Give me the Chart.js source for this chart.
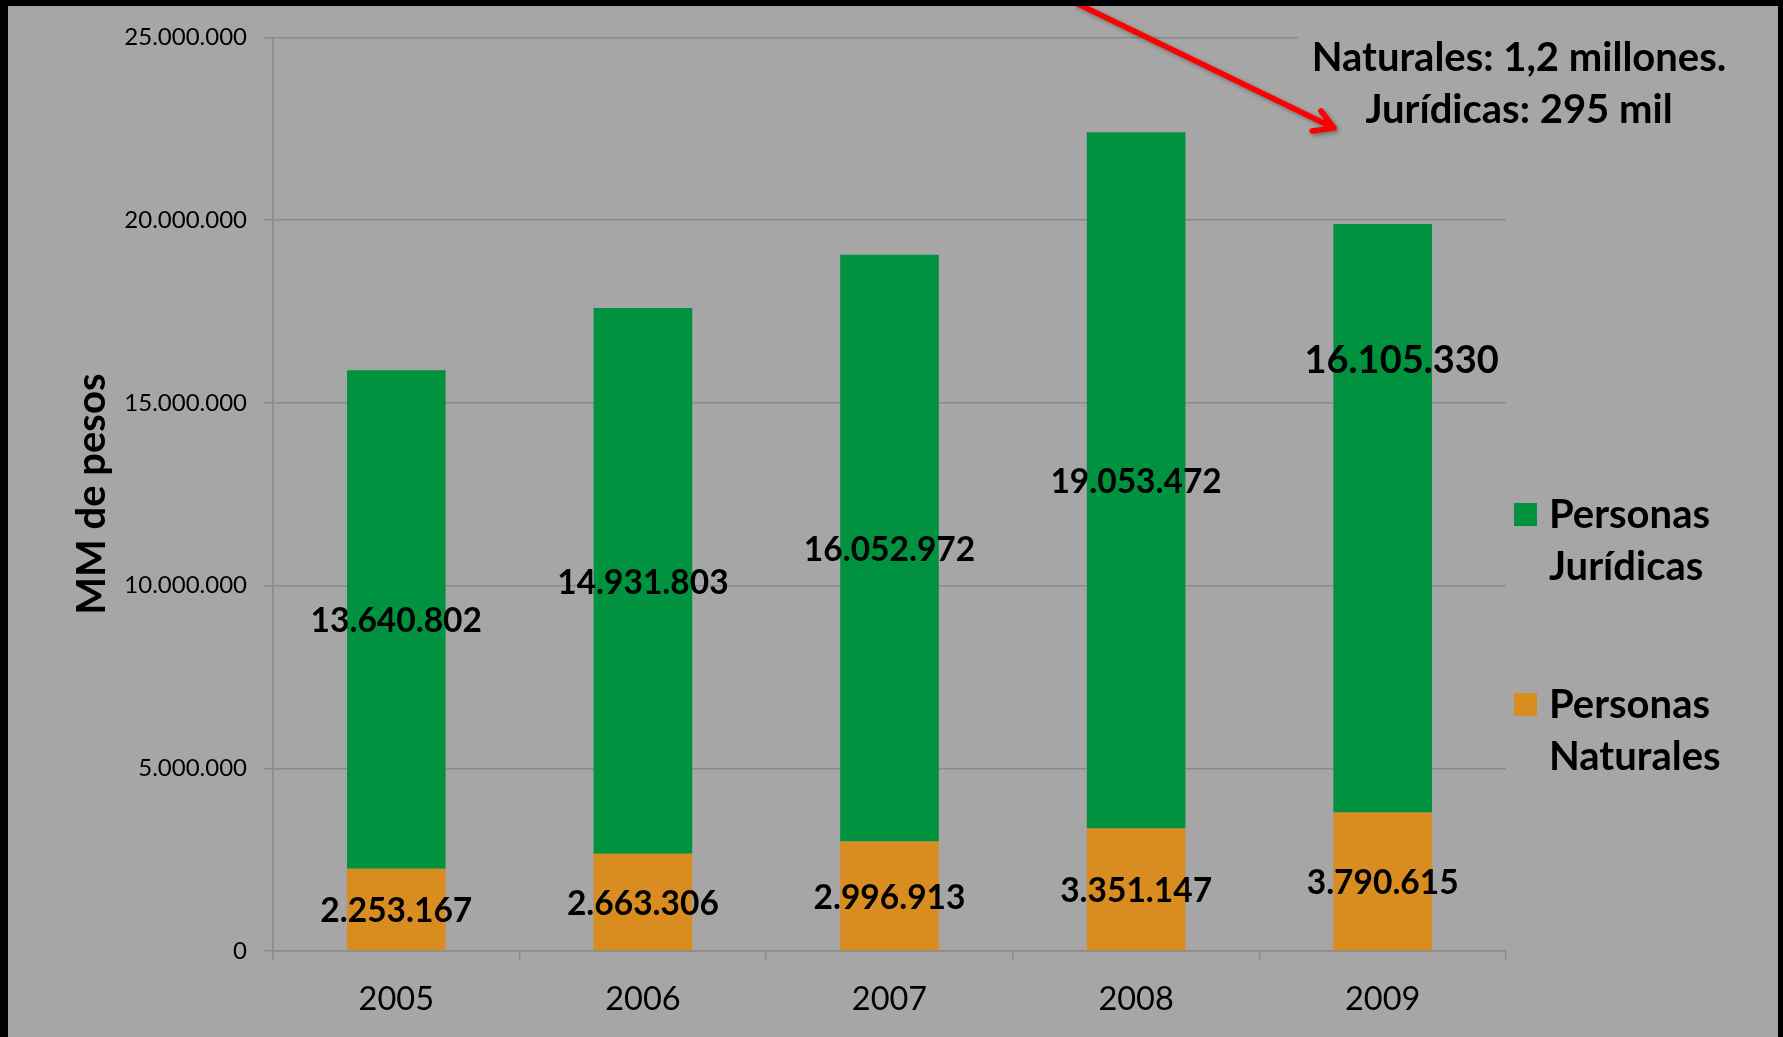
<!DOCTYPE html>
<html>
<head>
<meta charset="utf-8">
<script src="https://cdn.jsdelivr.net/npm/chart.js@4.4.1/dist/chart.umd.min.js"></script>
<style>
  html, body { margin: 0; padding: 0; background: #000; overflow: hidden; }
  #wrap { position: absolute; left: 8px; top: 6px; width: 1770px; height: 1031px; background: #a6a6a6; }
</style>
</head>
<body>
<div id="wrap"><canvas id="chart"></canvas></div>
<script>
const years = ["2005", "2006", "2007", "2008", "2009"];
const naturales = [2253167, 2663306, 2996913, 3351147, 3790615];
const juridicas = [13640802, 14931803, 16052972, 19053472, 16105330];
const yTicks = [0, 5000000, 10000000, 15000000, 20000000, 25000000];
const noteLines = ["Naturales: 1,2 millones.", "Jurídicas: 295 mil"];

const fmt = (v) => String(v).replace(/\B(?=(\d{3})+(?!\d))/g, ".");
const FONT = "Lato, 'Open Sans', sans-serif";
const GRID = "#8a8a8a";

// labels centred in each segment, one moved up as in the original slide
const barLabels = {
  id: "barLabels",
  afterDatasetsDraw(chart) {
    const ctx = chart.ctx;
    ctx.save();
    ctx.fillStyle = "#000";
    ctx.textAlign = "center";
    ctx.textBaseline = "middle";
    chart.data.datasets.forEach((ds, di) => {
      chart.getDatasetMeta(di).data.forEach((bar, i) => {
        let x = bar.x, y = (bar.y + bar.base) / 2 + 2, size = 33.5;
        if (di === 1 && i === 4) { x += 19; y -= 159; size = 38; }
        ctx.font = "bold " + size + "px " + FONT;
        ctx.fillText(fmt(ds.data[i]), x, y);
      });
    });
    ctx.restore();
  }
};

const sideLegend = {
  id: "sideLegend",
  afterDraw(chart) {
    const ctx = chart.ctx;
    ctx.save();
    ctx.font = "bold 40px " + FONT;
    ctx.textBaseline = "middle";
    ctx.textAlign = "left";
    const items = chart.data.datasets.slice().reverse();
    items.forEach((ds, k) => {
      const y0 = 509 + k * 190;
      ctx.fillStyle = ds.backgroundColor;
      ctx.fillRect(1506, y0 - 12, 23, 23);
      ctx.fillStyle = "#000";
      ds.label.split(" ").forEach((w, j) => ctx.fillText(w, 1541, y0 + j * 52));
    });

    // note in the top right corner
    ctx.textAlign = "center";
    ctx.fillStyle = "#a6a6a6";
    ctx.fillRect(1290, 22, 460, 110);
    ctx.fillStyle = "#000";
    noteLines.forEach((t, j) => ctx.fillText(t, 1511, 52 + j * 52));

    // red arrow
    ctx.strokeStyle = "#ff0000";
    ctx.lineWidth = 5.5;
    ctx.lineCap = "round";
    ctx.lineJoin = "round";
    ctx.shadowColor = "rgba(0,0,0,0.35)";
    ctx.shadowBlur = 4;
    ctx.shadowOffsetX = 2;
    ctx.shadowOffsetY = 2;
    ctx.beginPath();
    ctx.moveTo(1068, -3);
    ctx.lineTo(1326, 122);
    ctx.moveTo(1313, 105);
    ctx.lineTo(1326, 122);
    ctx.lineTo(1304, 125);
    ctx.stroke();
    ctx.restore();
  }
};

new Chart(document.getElementById("chart"), {
  type: "bar",
  data: {
    labels: years,
    datasets: [
      { label: "Personas Naturales", data: naturales, backgroundColor: "#d98c20" },
      { label: "Personas Jurídicas", data: juridicas, backgroundColor: "#00923f" }
    ]
  },
  options: {
    responsive: true,
    maintainAspectRatio: false,
    animation: false,
    layout: { padding: { left: 0, top: 30, right: 272, bottom: 0 } },
    datasets: { bar: { categoryPercentage: 1, barPercentage: 0.4 } },
    plugins: { legend: { display: false }, tooltip: { enabled: false } },
    scales: {
      x: {
        stacked: true,
        afterFit: (s) => { s.height = 86; },
        grid: { drawOnChartArea: false, drawTicks: true, tickLength: 9, color: GRID, lineWidth: 1.5 },
        border: { color: GRID, width: 1.5 },
        ticks: { color: "#000", padding: 20, font: { family: FONT, size: 32.5 } }
      },
      y: {
        stacked: true,
        min: 0,
        max: 25000000,
        afterFit: (s) => { s.width = 265; },
        afterBuildTicks: (s) => { s.ticks = yTicks.map((v) => ({ value: v })); },
        grid: { color: GRID, lineWidth: 1.5, tickLength: 9 },
        border: { color: GRID, width: 1.5 },
        ticks: { color: "#000", padding: 17, font: { family: FONT, size: 24 }, callback: (v) => fmt(v) },
        title: {
          display: true,
          text: "MM de pesos",
          color: "#000",
          font: { family: FONT, size: 40, weight: "bold" },
          padding: { top: 60, bottom: 0 }
        }
      }
    }
  },
  plugins: [barLabels, sideLegend]
});
</script>
</body>
</html>
